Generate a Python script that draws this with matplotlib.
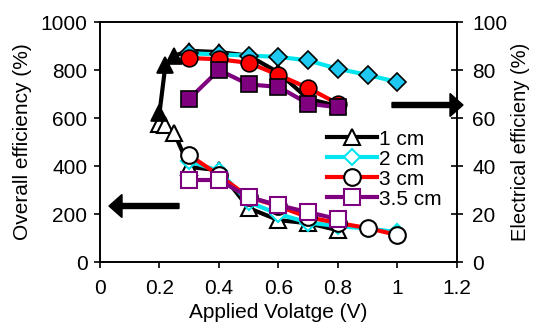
import matplotlib
matplotlib.use("Agg")
import matplotlib.pyplot as plt
from matplotlib.patches import FancyArrow

plt.rcParams['font.family'] = ['Liberation Sans', 'DejaVu Sans']

# ---------------------------------
# Data
# ---------------------------------
labels = ["1 cm", "2 cm", "3 cm", "3.5 cm"]
colors = ["black", "#00e5ee", "red", "#7f007f"]
markers = ["^", "D", "o", "s"]
fills = ["black", "#1ec8f0", "red", "#7f007f"]

v_1cm = [0.2, 0.22, 0.25, 0.3, 0.4, 0.5, 0.6, 0.7, 0.8]
v_2cm = [0.3, 0.4, 0.5, 0.6, 0.7, 0.8, 0.9, 1.0]
v_3cm = [0.3, 0.4, 0.5, 0.6, 0.7, 0.8, 0.9, 1.0]
v_35cm = [0.3, 0.4, 0.5, 0.6, 0.7, 0.8]

overall_1cm = [575, 570, 537, 396, 383, 225, 175, 162, 133]
overall_2cm = [420, 380, 250, 200, 165, 150, 140, 125]
overall_3cm = [446, 362, 271, 233, 187, 163, 142, 113]
overall_35cm = [342, 342, 271, 237, 208, 179]

elec_1cm = [62, 82, 86, 88, 87.5, 86, 79, 68, 65]
elec_2cm = [87, 86.5, 86, 85.5, 84, 80.5, 78, 75]
elec_3cm = [85, 84.5, 83, 78, 72.5, 66]
elec_35cm = [68, 80, 74, 73, 66, 64.5]
v_3cm_elec = [0.3, 0.4, 0.5, 0.6, 0.7, 0.8]

volts = [v_1cm, v_2cm, v_3cm, v_35cm]
overall = [overall_1cm, overall_2cm, overall_3cm, overall_35cm]
elec_v = [v_1cm, v_2cm, v_3cm_elec, v_35cm]
elec = [elec_1cm, elec_2cm, elec_3cm, elec_35cm]

# ---------------------------------
# Plot
# ---------------------------------
fig, ax = plt.subplots(figsize=(5.33, 3.24), dpi=100)
fig.subplots_adjust(left=0.1876, right=0.857, top=0.932, bottom=0.191)
ax2 = ax.twinx()

handles = []
for i in range(4):
    h, = ax.plot(volts[i], overall[i], color=colors[i], lw=3, marker=markers[i],
                 ms=12 if markers[i] != "D" else 8, mfc="white",
                 mec=colors[i] if i in (1, 3) else "black", mew=1.5,
                 label=labels[i], zorder=2 + i)
    handles.append(h)
    ax2.plot(elec_v[i], elec[i], color=colors[i], lw=3, marker=markers[i],
             ms=12 if markers[i] != "D" else 9, mfc=fills[i], mec="black",
             mew=1.2, zorder=2 + i)

ax.set_xlim(0, 1.2)
ax.set_ylim(0, 1000)
ax2.set_ylim(0, 100)
ax.set_xticks([0, 0.2, 0.4, 0.6, 0.8, 1, 1.2])
ax.set_xticklabels(["0", "0.2", "0.4", "0.6", "0.8", "1", "1.2"])
ax.set_yticks([0, 200, 400, 600, 800, 1000])
ax2.set_yticks([0, 20, 40, 60, 80, 100])

ax.tick_params(labelsize=15, direction="out", length=4, width=1.2, pad=5)
ax.tick_params(axis="x", pad=8)
ax2.tick_params(labelsize=15, direction="inout", length=8, width=1.2, pad=7)
for a in (ax, ax2):
    for s in a.spines.values():
        s.set_linewidth(1.2)

ax.set_xlabel("Applied Volatge (V)", fontsize=15, labelpad=4)
ax.set_ylabel("Overall efficiency (%)", fontsize=15, labelpad=6)
ax2.set_ylabel("Electrical efficieny (%)", fontsize=14.5, labelpad=3)

ax.legend(handles=handles, loc="upper left", bbox_to_anchor=(0.636, 0.552),
          frameon=False, fontsize=15, handlelength=2.4, handletextpad=0.1,
          labelspacing=0.05, borderaxespad=0, borderpad=0)

# arrows pointing at the axes
fig.patches.append(FancyArrow(
    179 / 533, 1 - 206 / 324, -57 / 533, 0, width=5 / 324, head_width=23 / 324,
    head_length=13 / 533, color="black", transform=fig.transFigure))
fig.patches.append(FancyArrow(
    392 / 533, 1 - 105 / 324, 58 / 533, 0, width=5 / 324, head_width=23 / 324,
    head_length=13 / 533, color="black", transform=fig.transFigure))

fig.savefig("out.png", dpi=100)
